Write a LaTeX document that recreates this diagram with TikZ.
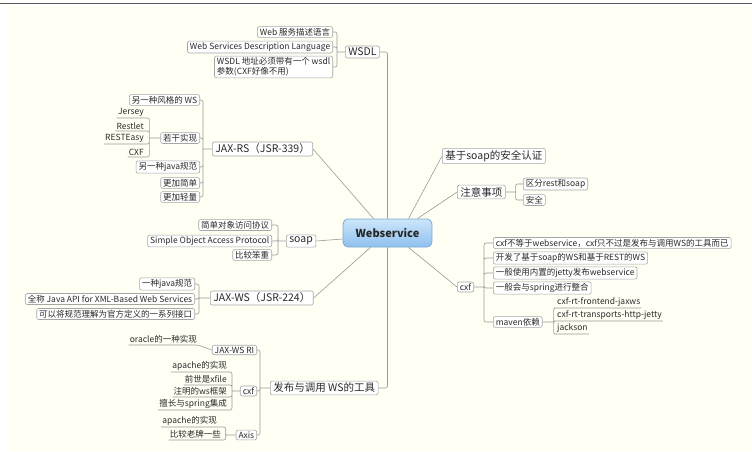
\documentclass[tikz,border=0pt]{standalone}
\usepackage{fontspec}
\setmainfont{Noto Sans CJK SC}
\definecolor{bgc}{HTML}{FFFFF4}
\definecolor{topc}{HTML}{5A5A5A}
\definecolor{boxc}{HTML}{A6A6A6}
\definecolor{linec}{HTML}{9A9A9A}
\definecolor{txtc}{HTML}{2A2A2A}
\definecolor{rootc}{HTML}{7AA8D6}
\definecolor{roottop}{HTML}{CDE6FB}
\definecolor{rootbot}{HTML}{8EC0EE}
\begin{document}
\begin{tikzpicture}[x=1pt,y=-1pt,
every node/.style={text=txtc,inner sep=0pt},
box/.style={%
draw=boxc,fill=white,line width=0.6pt,
rounded corners=2pt,
inner xsep=2.5pt,inner ysep=1.5pt,
font=\fontsize{8.5}{10}\selectfont
},
topic/.style={%
box,inner xsep=3pt,inner ysep=2pt,
font=\fontsize{10.5}{12}\selectfont
},
uline/.style={%
inner xsep=1pt,inner ysep=1.2pt,
font=\fontsize{8.5}{10}\selectfont
},
root/.style={%
draw=rootc,line width=0.8pt,rounded corners=5pt,
top color=roottop,bottom color=rootbot,
minimum width=89pt,minimum height=28pt,
font=\fontsize{11}{13}\selectfont\bfseries,text=black!85
},
conn/.style={draw=linec,line width=0.6pt,rounded corners=2pt}]
\useasboundingbox (0,0) rectangle (752,451);
\fill[white] (0,0) rectangle (752,451);
\fill[bgc] (8,6) rectangle (752,451);
\draw[topc,line width=1.4pt] (0,3.5)--(752,3.5);

\node[root]at(387.5,233)(ws){Webservice};

\node[topic,anchor=west]at(345,52)(wsdl){WSDL};
\node[box,anchor=east]at(333,32)(wsdla){Web 服务描述语言};
\node[box,anchor=east]at(333,47)(wsdlb){Web Services Description Language};
\node[box,anchor=east,align=left]at(333,67)(wsdlc){WSDL 地址必须带有一个 wsdl\\参数(CXF好像不用)};

\node[topic,anchor=west]at(212,149)(jaxrs){JAX-RS（JSR-339）};
\node[box,anchor=east]at(200,100)(rsa){另一种风格的 WS};
\node[box,anchor=east]at(200,138)(rsb){若干实现};
\node[box,anchor=east]at(200,167)(rsc){另一种java规范};
\node[box,anchor=east]at(200,183)(rsd){更加简单};
\node[box,anchor=east]at(200,197)(rse){更加轻量};
\node[uline,anchor=south east]at(145,118)(jersey){Jersey};
\node[uline,anchor=south east]at(145,131)(restlet){Restlet};
\node[uline,anchor=south east]at(145,144)(resteasy){RESTEasy};
\node[uline,anchor=south east]at(145,157)(cxfrs){CXF};

\node[topic,anchor=west]at(286,241)(soap){soap};
\node[box,anchor=east]at(272,225)(soapa){简单对象访问协议};
\node[box,anchor=east]at(272,241)(soapb){Simple Object Access Protocol};
\node[box,anchor=east]at(272,255)(soapc){比较笨重};

\node[topic,anchor=west]at(210,298)(jaxws){JAX-WS（JSR-224）};
\node[box,anchor=east]at(195,284)(wsa){一种java规范};
\node[box,anchor=east]at(195,299)(wsb){全称 Java API for XML-Based Web Services};
\node[box,anchor=east]at(195,314)(wsc){可以将规范理解为官方定义的一系列接口};

\node[topic,anchor=west]at(270,388)(tool){发布与调用 WS的工具};
\node[box,anchor=east]at(257,350)(ri){JAX-WS RI};
\node[box,anchor=east]at(257,391)(cxft){cxf};
\node[box,anchor=east]at(257,435)(axis){Axis};
\node[uline,anchor=south east]at(198,345)(oracle){oracle的一种实现};
\node[uline,anchor=south east]at(228,372)(cxfta){apache的实现};
\node[uline,anchor=south east]at(228,385)(cxftb){前世是xfile};
\node[uline,anchor=south east]at(228,397)(cxftc){注明的ws框架};
\node[uline,anchor=south east]at(228,410)(cxftd){擅长与spring集成};
\node[uline,anchor=south east]at(218,427)(axisa){apache的实现};
\node[uline,anchor=south east]at(222,440)(axisb){比较老牌一些};

\node[topic,anchor=west]at(442,156)(auth){基于soap的安全认证};
\node[topic,anchor=west]at(457,192)(note){注意事项};
\node[box,anchor=west]at(523,184)(notea){区分rest和soap};
\node[box,anchor=west]at(523,200)(noteb){安全};

\node[box,anchor=west]at(457,287)(cxfr){cxf};
\node[box,anchor=west]at(493,243)(cxfa){cxf不等于webservice，cxf只不过是发布与调用WS的工具而已};
\node[box,anchor=west]at(493,258)(cxfb){开发了基于soap的WS和基于REST的WS};
\node[box,anchor=west]at(493,273)(cxfc){一般使用内置的jetty发布webservice};
\node[box,anchor=west]at(493,288)(cxfd){一般会与spring进行整合};
\node[box,anchor=west]at(493,322)(maven){maven依赖};
\node[uline,anchor=south west]at(556,308)(mva){cxf-rt-frontend-jaxws};
\node[uline,anchor=south west]at(556,321)(mvb){cxf-rt-transports-http-jetty};
\node[uline,anchor=south west]at(556,334)(mvc){jackson};

\draw[conn] (wsdl.east) -| (ws.north);
\draw[conn] (jaxrs.east) -- ([xshift=-14pt]ws.north);
\draw[conn] (soap.east) -- ([yshift=-6pt]ws.west);
\draw[conn] (jaxws.east) -- ([xshift=-17pt]ws.south);
\draw[conn] (ws.south) |- (tool.east);
\draw[conn] (auth.west) -- ([xshift=21pt]ws.north);
\draw[conn] (note.west) -- ([xshift=30pt]ws.north);
\draw[conn] (cxfr.west) -- ([xshift=21pt]ws.south);

\draw[conn] (wsdl.west) -- ++(-8,0) coordinate (bwsdl) (wsdla.east) -| (bwsdl) (wsdlb.east) -| (bwsdl) (wsdlc.east) -| (bwsdl);
\draw[conn] (jaxrs.west) -- ++(-9,0) coordinate (brs) (rsa.east) -| (brs) (rsb.east) -| (brs) (rsc.east) -| (brs) (rsd.east) -| (brs) (rse.east) -| (brs);
\draw[conn] (rsb.west) -- ++(-11,0) coordinate (bimpl) (jersey.south west) -- (jersey.south east) -| (bimpl) (restlet.south west) -- (restlet.south east) -| (bimpl) (resteasy.south west) -- (resteasy.south east) -| (bimpl) (cxfrs.south west) -- (cxfrs.south east) -| (bimpl);
\draw[conn] (soap.west) -- ++(-8,0) coordinate (bsoap) (soapa.east) -| (bsoap) (soapb.east) -| (bsoap) (soapc.east) -| (bsoap);
\draw[conn] (jaxws.west) -- ++(-11,0) coordinate (bws) (wsa.east) -| (bws) (wsb.east) -| (bws) (wsc.east) -| (bws);
\draw[conn] (tool.west) -- ++(-10,0) coordinate (btool) (ri.east) -| (btool) (cxft.east) -| (btool) (axis.east) -| (btool);
\draw[conn] (oracle.south west) -- (oracle.south east) -- (ri.west);
\draw[conn] (cxft.west) -- ++(-8,0) coordinate (bcxft) (cxfta.south west) -- (cxfta.south east) -| (bcxft) (cxftb.south west) -- (cxftb.south east) -| (bcxft) (cxftc.south west) -- (cxftc.south east) -| (bcxft) (cxftd.south west) -- (cxftd.south east) -| (bcxft);
\draw[conn] (axis.west) -- ++(-10,0) coordinate (baxis) (axisa.south west) -- (axisa.south east) -| (baxis) (axisb.south west) -- (axisb.south east) -| (baxis);
\draw[conn] (note.east) -- ++(10,0) coordinate (bnote) (notea.west) -| (bnote) (noteb.west) -| (bnote);
\draw[conn] (cxfr.east) -- ++(10,0) coordinate (bcxf) (cxfa.west) -| (bcxf) (cxfb.west) -| (bcxf) (cxfc.west) -| (bcxf) (cxfd.west) -| (bcxf) (maven.west) -| (bcxf);
\draw[conn] (maven.east) -- ++(11,0) coordinate (bmvn) (mva.south east) -- (mva.south west) -| (bmvn) (mvb.south east) -- (mvb.south west) -| (bmvn) (mvc.south east) -- (mvc.south west) -| (bmvn);
%\draw[conn] (auth.south west) -- (note.north west);
\end{tikzpicture}
\end{document}
